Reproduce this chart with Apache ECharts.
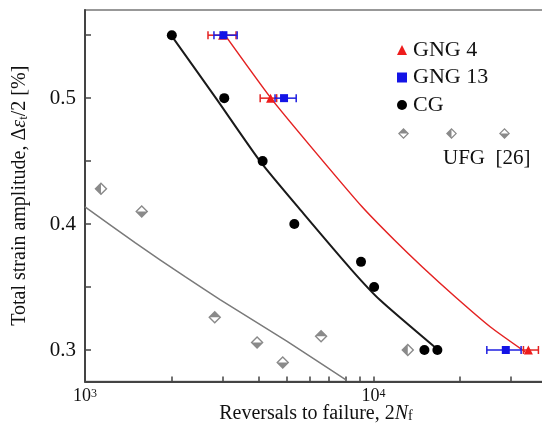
<!DOCTYPE html>
<html>
<head>
<meta charset="utf-8">
<script src="https://cdn.jsdelivr.net/npm/echarts@6/dist/echarts.min.js"></script>
<style>html,body{margin:0;padding:0;background:#fff}#c{width:542px;height:435px}</style>
</head>
<body>
<div id="c"></div>
<script>
// ---- data ----
const cgN = [2000, 3040, 4130, 5320, 9060, 10060, 15030, 16670];
const cgAmp = [0.55, 0.50, 0.45, 0.40, 0.37, 0.35, 0.30, 0.30];

const gng4N = [3000, 4400, 34480];
const gng4Amp = [0.55, 0.50, 0.30];
const gng4Lo = [2670, 4050, 33140];
const gng4Hi = [3340, 4620, 37350];

const gng13N = [3020, 4900, 28790];
const gng13Amp = [0.55, 0.50, 0.30];
const gng13Lo = [2800, 4560, 24740];
const gng13Hi = [3370, 5400, 32530];

const ufgTopN = [2818, 6586];
const ufgTopAmp = [0.326, 0.311];
const ufgLeftN = [1136, 13160];
const ufgLeftAmp = [0.428, 0.300];
const ufgBottomN = [1573, 3951, 4850];
const ufgBottomAmp = [0.410, 0.306, 0.290];

// fitted curves
const cgFitN = [2000, 2848, 4062, 5716, 8416, 10548, 16630];
const cgFitAmp = [0.5492, 0.4998, 0.4494, 0.4085, 0.3635, 0.3397, 0.3008];
const gng4FitN = [3059, 4418, 6007, 9137, 11825, 14755, 19205, 25400, 33590];
const gng4FitAmp = [0.5500, 0.4998, 0.4627, 0.4137, 0.3873, 0.3661, 0.3423, 0.3185, 0.2986];
const ufgFitN = [1000, 1491, 2223, 2939, 5007, 8086];
const ufgFitAmp = [0.4137, 0.3852, 0.3582, 0.3401, 0.3071, 0.2758];

const xTicks = [1000, 2000, 3000, 4000, 5000, 6000, 7000, 8000, 9000, 10000, 20000, 30000];
const xLabels = [1000, 10000];
const yTicks = [0.30, 0.35, 0.40, 0.45, 0.50, 0.55];
const yLabels = [0.3, 0.4, 0.5];

// ---- helpers ----
const zip = (a, b) => a.map((v, i) => [v, b[i]]);
const zip4 = (a, b, c, d) => a.map((v, i) => [v, b[i], c[i], d[i]]);
const FONT = 'Liberation Serif';

// half-filled diamond symbols (outer ring + filled half)
const ring = 'M0,-10 L10,0 L0,10 L-10,0 Z M0,-7 L-7,0 L0,7 L7,0 Z ';
const dTop = 'path://' + ring + 'M0,-7 L7,0 L-7,0 Z';
const dBottom = 'path://' + ring + 'M-7,0 L7,0 L0,7 Z';
const dLeft = 'path://' + ring + 'M0,-7 L0,7 L-7,0 Z';

function errRender(color) {
  return function (params, api) {
    const y = api.value(1);
    const p1 = api.coord([api.value(2), y]);
    const p2 = api.coord([api.value(3), y]);
    const st = { stroke: color, lineWidth: 1.5 };
    return {
      type: 'group',
      children: [
        { type: 'line', shape: { x1: p1[0], y1: p1[1], x2: p2[0], y2: p2[1] }, style: st },
        { type: 'line', shape: { x1: p1[0], y1: p1[1] - 4, x2: p1[0], y2: p1[1] + 4 }, style: st },
        { type: 'line', shape: { x1: p2[0], y1: p2[1] - 4, x2: p2[0], y2: p2[1] + 4 }, style: st }
      ]
    };
  };
}

const chart = echarts.init(document.getElementById('c'), null, { renderer: 'canvas' });
const legendText = { fontFamily: FONT, fontSize: 22, color: '#111', lineHeight: 22, padding: [0, 0, 0, 1] };
const ufgLegend = (name, left) => ({ data: [name], left: left, top: 123, itemWidth: 11, itemHeight: 11, formatter: () => '', selectedMode: false });

chart.setOption({
  animation: false,
  backgroundColor: '#fff',
  grid: { left: 85, top: 10, width: 462, height: 371.5, containLabel: false, outerBoundsMode: 'none', show: true, borderColor: '#777', borderWidth: 1.5, backgroundColor: 'transparent' },
  xAxis: {
    type: 'log', logBase: 10, min: 1000, max: 40000,
    name: 'Reversals to failure, 2{i|N}{sub|f}',
    nameLocation: 'middle', nameGap: 22, nameMoveOverlap: false,
    nameTextStyle: {
      fontFamily: FONT, fontSize: 20, color: '#111', verticalAlign: 'top',
      rich: {
        i: { fontFamily: FONT, fontSize: 20, fontStyle: 'italic', color: '#111' },
        sub: { fontFamily: FONT, fontSize: 14, color: '#111', verticalAlign: 'bottom' }
      }
    },
    axisLine: { lineStyle: { color: '#444', width: 2 } },
    axisTick: { inside: true, length: 5, customValues: xTicks, lineStyle: { color: '#444', width: 1.5 } },
    axisLabel: {
      customValues: xLabels, margin: 6,
      formatter: v => '{b|10}{s|' + Math.round(Math.log10(v)) + '}',
      rich: {
        b: { fontFamily: FONT, fontSize: 18, lineHeight: 18, padding: [5, 0, 0, 0], verticalAlign: 'bottom', color: '#111' },
        s: { fontFamily: FONT, fontSize: 12, lineHeight: 12, color: '#111', verticalAlign: 'top' }
      }
    },
    splitLine: { show: false }, minorTick: { show: false }
  },
  yAxis: {
    type: 'value', min: 0.275, max: 0.57,
    name: 'Total strain amplitude, Δ{i|ε}{sub|t}/2 [%]',
    nameLocation: 'middle', nameRotate: 90, nameGap: 55, nameMoveOverlap: false,
    nameTextStyle: {
      fontFamily: FONT, fontSize: 20, color: '#111',
      rich: {
        i: { fontFamily: FONT, fontSize: 20, fontStyle: 'italic', color: '#111' },
        sub: { fontFamily: FONT, fontSize: 13, color: '#111', verticalAlign: 'bottom', padding: [8, 0, 0, 0] }
      }
    },
    axisLine: { show: true, lineStyle: { color: '#444', width: 2 } },
    axisTick: { show: true, inside: true, length: 6, customValues: yTicks, lineStyle: { color: '#444', width: 1.5 } },
    axisLabel: { customValues: yLabels, margin: 9, fontFamily: FONT, fontSize: 21, color: '#111', formatter: v => v.toFixed(1) },
    splitLine: { show: false }
  },
  legend: [
    { data: ['GNG 4', 'GNG 13', 'CG'], orient: 'vertical', left: 392, top: 34, itemGap: 5.5, itemWidth: 10, itemHeight: 10, textStyle: legendText, selectedMode: false },
    ufgLegend('UFG top', 393),
    ufgLegend('UFG left', 441),
    ufgLegend('UFG bottom', 494)
  ],
  graphic: [
    { type: 'text', left: 443, top: 148, style: { text: 'UFG  [26]', fontFamily: FONT, fontSize: 21, fill: '#111' } }
  ],
  series: [
    { name: 'UFG fit', type: 'line', data: zip(ufgFitN, ufgFitAmp), smooth: 0.2, showSymbol: false, lineStyle: { color: '#7a7a7a', width: 1.5 }, z: 2 },
    { name: 'CG fit', type: 'line', data: zip(cgFitN, cgFitAmp), smooth: 0.2, showSymbol: false, lineStyle: { color: '#1a1a1a', width: 2 }, z: 2 },
    { name: 'GNG 4 fit', type: 'line', data: zip(gng4FitN, gng4FitAmp), smooth: 0.2, showSymbol: false, lineStyle: { color: '#e42222', width: 1.5 }, z: 2 },
    { name: 'UFG top', type: 'scatter', data: zip(ufgTopN, ufgTopAmp), symbol: dTop, symbolSize: 13, itemStyle: { color: '#8a8a8a', opacity: 1 }, z: 3 },
    { name: 'UFG left', type: 'scatter', data: zip(ufgLeftN, ufgLeftAmp), symbol: dLeft, symbolSize: 13, itemStyle: { color: '#8a8a8a', opacity: 1 }, z: 3 },
    { name: 'UFG bottom', type: 'scatter', data: zip(ufgBottomN, ufgBottomAmp), symbol: dBottom, symbolSize: 13, itemStyle: { color: '#8a8a8a', opacity: 1 }, z: 3 },
    { name: 'CG', type: 'scatter', data: zip(cgN, cgAmp), symbol: 'circle', symbolSize: 10, itemStyle: { color: '#000', opacity: 1 }, z: 4 },
    { name: 'GNG 4 err', type: 'custom', data: zip4(gng4N, gng4Amp, gng4Lo, gng4Hi), encode: { x: 0, y: 1 }, renderItem: errRender('#e42222'), z: 4 },
    { name: 'GNG 4', type: 'scatter', data: zip(gng4N, gng4Amp), symbol: 'triangle', symbolSize: 9, itemStyle: { color: '#ee1c1c', opacity: 1 }, z: 5 },
    { name: 'GNG 13 err', type: 'custom', data: zip4(gng13N, gng13Amp, gng13Lo, gng13Hi), encode: { x: 0, y: 1 }, renderItem: errRender('#1f1fe0'), z: 5 },
    { name: 'GNG 13', type: 'scatter', data: zip(gng13N, gng13Amp), symbol: 'rect', symbolSize: 8, itemStyle: { color: '#1414e6', opacity: 1 }, z: 6 }
  ]
});
</script>
</body>
</html>
